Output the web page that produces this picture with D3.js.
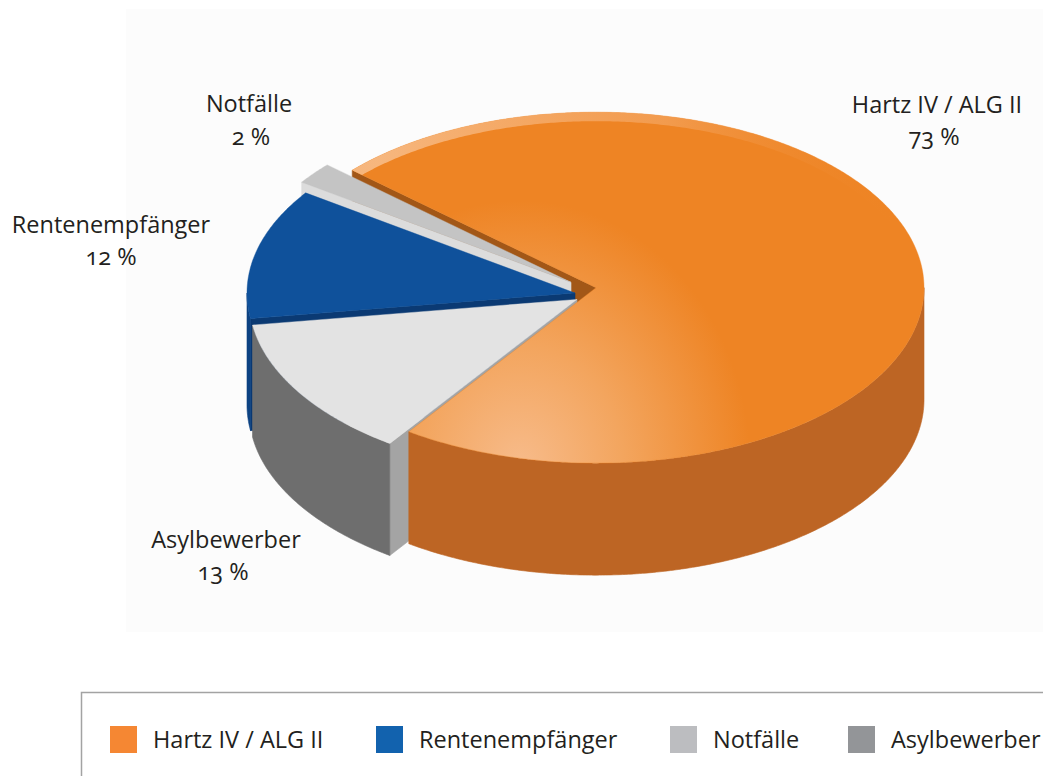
<!DOCTYPE html>
<html><head><meta charset="utf-8">
<script src="https://cdn.jsdelivr.net/npm/d3@7"></script>
<style>
body{margin:0;background:#fff}
svg{display:block}
text{font-family:"Open Sans",sans-serif;fill:#231f20;font-variant-numeric:oldstyle-nums}
</style>
</head><body>
<svg id="chart" width="1043" height="776"></svg>
<script>
// ---- data ----
const categories = ["Hartz IV / ALG II", "Asylbewerber", "Rentenempfänger", "Notfälle"];
const values = [73, 13, 12, 2];
const valueLabels = ["73 %", "13 %", "12 %", "2 %"];
const legendOrder = ["Hartz IV / ALG II", "Rentenempfänger", "Notfälle", "Asylbewerber"];

// ---- styles ----
const topColor   = ["#ee8424", "#e3e3e3", "#0f519b", "#c4c4c4"];
const outerColor = ["#bd6524", "#6e6e6e", "#0c4282", "#a5a5a5"];
const sideColor  = ["#a25717", "#a4a4a4", "#0b3a73", "#dcdcdc"];
const legendColor = {"Hartz IV / ALG II":"#f58733","Rentenempfänger":"#1262ae","Notfälle":"#bcbdc0","Asylbewerber":"#939598"};
// explode offsets in pie plane (x right, z far)
const offsets = [{x:16,z:10},{x:-3,z:-12},{x:-5,z:0},{x:-9,z:20}];
const labelPos = [[937,113,934,145],[226,548,223,580],[111,233,111,265],[249,112,251,145]];

const svg = d3.select("#chart");
const W = 1043, H = 776;
const cx = 580, cy = 293, R = 328, ratio = 0.535, depth = 112;
const deg = Math.PI/180;
const fontSize = 23.5;

svg.append("rect").attr("x",126).attr("y",9).attr("width",W-126).attr("height",623).attr("fill","#fcfcfc");

const defs = svg.append("defs");
const rg = defs.append("radialGradient").attr("id","hartzGrad").attr("gradientUnits","userSpaceOnUse")
  .attr("cx",520).attr("cy",465).attr("r",230)
  .attr("gradientTransform","translate(520,465) scale(1,1.15) translate(-520,-465)");
rg.append("stop").attr("offset",0).attr("stop-color","#f7bb8a");
rg.append("stop").attr("offset",0.45).attr("stop-color","#f3a55e");
rg.append("stop").attr("offset",1).attr("stop-color","#ee8424");
const lg = defs.append("linearGradient").attr("id","rimGrad").attr("gradientUnits","userSpaceOnUse")
  .attr("x1",380).attr("y1",0).attr("x2",900).attr("y2",0);
lg.append("stop").attr("offset",0).attr("stop-color","#f7b982").attr("stop-opacity",0.95);
lg.append("stop").attr("offset",0.55).attr("stop-color","#f4a560").attr("stop-opacity",0.7);
lg.append("stop").attr("offset",1).attr("stop-color","#ee8424").attr("stop-opacity",0);

const pie = d3.pie().sort(null).value(d=>d).startAngle(-48*deg).endAngle(312*deg);
const arcs = pie(values);

function proj(X, Z, bottom){ return [cx + X, cy - Z*ratio + (bottom ? depth : 0)]; }
function rim(a, off, bottom){ return proj(off.x + R*Math.sin(a), off.z + R*Math.cos(a), bottom); }
function arcPts(a0, a1, off, bottom){
  const n = Math.max(2, Math.ceil(Math.abs(a1-a0)/(0.5*deg)));
  return d3.range(n+1).map(i => rim(a0 + (a1-a0)*i/n, off, bottom));
}
const line = d3.line();

const radial = [], outer = [], tops = [];
arcs.forEach((a,i)=>{
  const off = offsets[i];
  const a0 = a.startAngle, a1 = a.endAngle;
  tops.push({i, d: line([proj(off.x,off.z,false), ...arcPts(a0,a1,off,false)]) + "Z"});
  const wall = ang => [proj(off.x,off.z,false), rim(ang,off,false), rim(ang,off,true), proj(off.x,off.z,true)];
  if (Math.sin(a0) < 0) radial.push({i, z: off.z + R/2*Math.cos(a0), d: line(wall(a0))+"Z"});
  if (Math.sin(a1) > 0) radial.push({i, z: off.z + R/2*Math.cos(a1), d: line(wall(a1))+"Z"});
  for (let k=-1;k<=1;k++){
    const v0 = Math.max(a0, Math.PI/2 + 2*Math.PI*k), v1 = Math.min(a1, 1.5*Math.PI + 2*Math.PI*k);
    if (v1 > v0){
      const pts = arcPts(v0,v1,off,false).concat(arcPts(v0,v1,off,true).reverse());
      outer.push({i, z: off.z + R*Math.cos((v0+v1)/2), d: line(pts)+"Z"});
    }
  }
});
radial.sort((p,q)=>q.z-p.z);
outer.sort((p,q)=>q.z-p.z);

const g = svg.append("g");
g.selectAll("path.radial").data(radial).join("path").attr("class","radial")
  .attr("d",d=>d.d).attr("fill",d=>sideColor[d.i]).attr("stroke",d=>sideColor[d.i]).attr("stroke-width",0.6);
g.selectAll("path.outer").data(outer).join("path").attr("class","outer")
  .attr("d",d=>d.d).attr("fill",d=>outerColor[d.i]).attr("stroke",d=>outerColor[d.i]).attr("stroke-width",0.6);
g.selectAll("path.top").data(tops).join("path").attr("class","top")
  .attr("d",d=>d.d).attr("fill",d=> d.i===0 ? "url(#hartzGrad)" : topColor[d.i])
  .attr("stroke",d=>topColor[d.i]).attr("stroke-width",0.4);

defs.append("clipPath").attr("id","hartzClip").append("path").attr("d",tops[0].d);
g.append("path").attr("clip-path","url(#hartzClip)")
  .attr("d", line(arcPts(arcs[0].startAngle, 95*deg, offsets[0], false)))
  .attr("fill","none").attr("stroke","url(#rimGrad)").attr("stroke-width",18);

categories.forEach((c,i)=>{
  const p = labelPos[i];
  svg.append("text").attr("x",p[0]).attr("y",p[1]).attr("text-anchor","middle").attr("font-size",fontSize).text(c);
  svg.append("text").attr("x",p[2]).attr("y",p[3]).attr("text-anchor","middle").attr("font-size",fontSize).text(valueLabels[i]);
});

svg.append("path").attr("d",`M81.5,${H} V692.5 H${W}`).attr("fill","none").attr("stroke","#a3a3a3").attr("stroke-width",1.5);
const legXs = {"Hartz IV / ALG II":110,"Rentenempfänger":376,"Notfälle":670,"Asylbewerber":848};
const leg = svg.selectAll("g.leg").data(legendOrder).join("g").attr("class","leg")
  .attr("transform",d=>`translate(${legXs[d]},726)`);
leg.append("rect").attr("width",27).attr("height",27).attr("fill",d=>legendColor[d]);
leg.append("text").attr("x",43).attr("y",22).attr("font-size",fontSize).text(d=>d);
</script>
</body></html>
